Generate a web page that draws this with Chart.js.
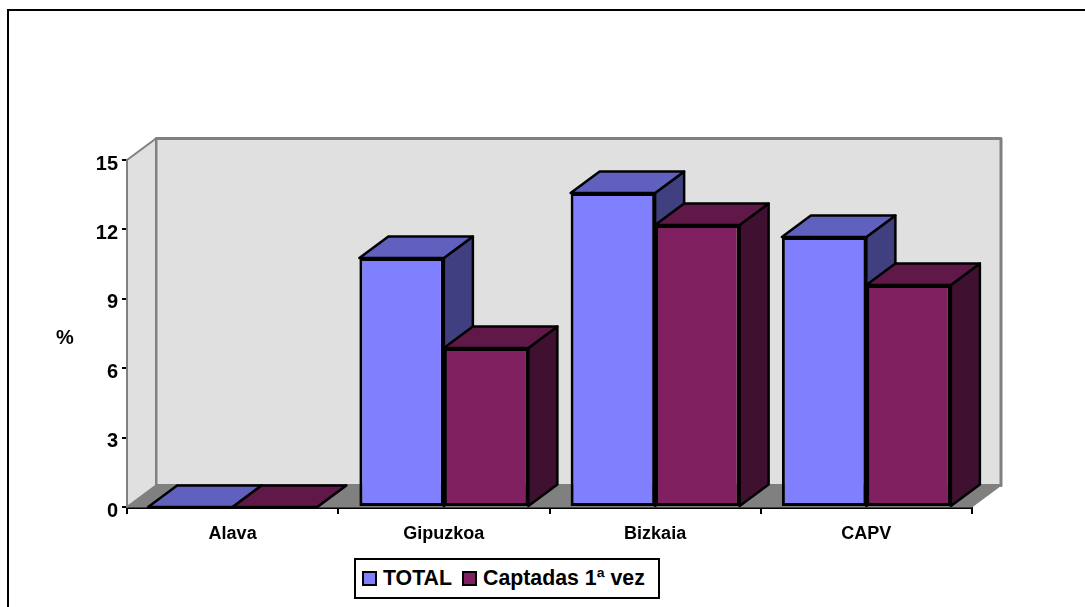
<!DOCTYPE html>
<html>
<head>
<meta charset="utf-8">
<title>Captadas</title>
<script src="https://cdn.jsdelivr.net/npm/chart.js@4"></script>
<style>
  html, body { margin: 0; padding: 0; background: #fff; overflow: hidden; }
  #wrap { position: relative; width: 1085px; height: 607px; }
  #frame { position: absolute; left: 7px; top: 9px; width: 1085px; height: 700px; border: 2px solid #000; }
  canvas { position: absolute; left: 0; top: 0; }
  #legend {
    position: absolute; left: 354px; top: 558px; width: 306px; height: 41px;
    border: 2px solid #000; background: #fff; box-sizing: border-box;
    display: flex; align-items: center; padding-left: 6px;
    font: bold 21.3px "Liberation Sans", Arial, sans-serif; color: #000; white-space: nowrap;
  }
  #legend .key { width: 11px; height: 11px; border: 2px solid #000; margin-right: 6px; flex: none; }
  #legend .item { display: flex; align-items: center; margin-right: 10px; }
</style>
</head>
<body>
<div id="wrap">
  <div id="frame"></div>
  <canvas id="chart" width="1085" height="607"></canvas>
  <div id="legend"></div>
</div>
<script>
const categories = ["Alava", "Gipuzkoa", "Bizkaia", "CAPV"];
const totalValues = [0, 10.76, 13.57, 11.67];
const captadasValues = [0, 6.87, 12.19, 9.6];
const yTicks = [0, 3, 6, 9, 12, 15];
const seriesNames = ["TOTAL", "Captadas 1ª vez"];

const depthX = 29;
const depthY = -21.5;
const fontFamily = '"Liberation Sans", Arial, sans-serif';

const palette = [
  { front: "#8080ff", top: "#6060bf", side: "#404080" },
  { front: "#802060", top: "#601848", side: "#401030" },
];

function poly(ctx, pts, fill, stroke, width) {
  ctx.beginPath();
  pts.forEach((p, i) => (i ? ctx.lineTo(p[0], p[1]) : ctx.moveTo(p[0], p[1])));
  ctx.closePath();
  ctx.fillStyle = fill;
  ctx.fill();
  if (stroke) {
    ctx.strokeStyle = stroke;
    ctx.lineWidth = width;
    ctx.lineJoin = "round";
    ctx.stroke();
  }
}

// walls, floor and the bars' top and side faces go under the front faces
const box3d = {
  id: "box3d",
  beforeDatasetsDraw(chart) {
    const { ctx, chartArea: a } = chart;
    const bx = a.left + depthX, by = a.bottom + depthY, tx = a.right + depthX, ty = a.top + depthY;
    ctx.save();
    poly(ctx, [[bx, ty], [tx, ty], [tx, by], [bx, by]], "#e0e0e0", "#808080", 3);
    poly(ctx, [[a.left, a.top], [bx, ty], [bx, by], [a.left, a.bottom]], "#e0e0e0", "#808080", 2);
    poly(ctx, [[a.left, a.bottom], [bx, by], [tx, by], [a.right, a.bottom]], "#808080", "#808080", 1);

    // first series first, the second one's top overlaps its side
    chart.data.datasets.forEach((ds, i) => {
      const colors = palette[i];
      chart.getDatasetMeta(i).data.forEach((bar) => {
        const l = bar.x - bar.width / 2, r = bar.x + bar.width / 2;
        const t = bar.y, b = bar.base;
        poly(ctx, [[r, t], [r + depthX, t + depthY], [r + depthX, b + depthY], [r, b]], colors.side, "#000", 2.5);
        poly(ctx, [[l, t], [l + depthX, t + depthY], [r + depthX, t + depthY], [r, t]], colors.top, "#000", 2.5);
      });
    });
    ctx.restore();
  },
  afterDraw(chart) {
    const { ctx } = chart;
    ctx.save();
    ctx.fillStyle = "#000";
    ctx.font = "bold 20px " + fontFamily;
    ctx.textAlign = "center";
    ctx.textBaseline = "middle";
    ctx.fillText("%", 65, 338);
    ctx.restore();
  },
};

new Chart(document.getElementById("chart"), {
  type: "bar",
  data: {
    labels: categories,
    datasets: [
      { label: seriesNames[0], data: totalValues, backgroundColor: palette[0].front },
      { label: seriesNames[1], data: captadasValues, backgroundColor: palette[1].front },
    ],
  },
  options: {
    responsive: false,
    animation: false,
    layout: { padding: { left: 67, top: 160, right: 113, bottom: 40 } },
    datasets: {
      bar: {
        categoryPercentage: 0.8,
        barPercentage: 1,
        borderColor: "#000",
        borderWidth: 3,
        borderSkipped: false,
      },
    },
    plugins: { legend: { display: false }, tooltip: { enabled: false } },
    scales: {
      x: {
        z: 1,
        grid: { drawOnChartArea: false, color: "#000", lineWidth: 2, tickLength: 7, offset: true },
        border: { color: "#000", width: 3 },
        ticks: { color: "#000", font: { family: fontFamily, size: 18, weight: "bold" }, padding: 9, maxRotation: 0 },
        afterFit(s) { s.height = 60; },
      },
      y: {
        z: 1,
        min: 0,
        max: 15,
        afterBuildTicks(s) { s.ticks = yTicks.map((v) => ({ value: v })); },
        grid: { drawOnChartArea: false, color: "#000", lineWidth: 2, tickLength: 5 },
        border: { color: "#000", width: 3 },
        ticks: { color: "#000", font: { family: fontFamily, size: 20, weight: "bold" }, padding: 4, labelOffset: 4 },
        afterFit(s) { s.width = 60; },
      },
    },
  },
  plugins: [box3d],
});

const legend = document.getElementById("legend");
seriesNames.forEach((name, i) => {
  const item = document.createElement("div");
  item.className = "item";
  const key = document.createElement("span");
  key.className = "key";
  key.style.background = palette[i].front;
  item.appendChild(key);
  item.appendChild(document.createTextNode(name));
  legend.appendChild(item);
});
</script>
</body>
</html>
